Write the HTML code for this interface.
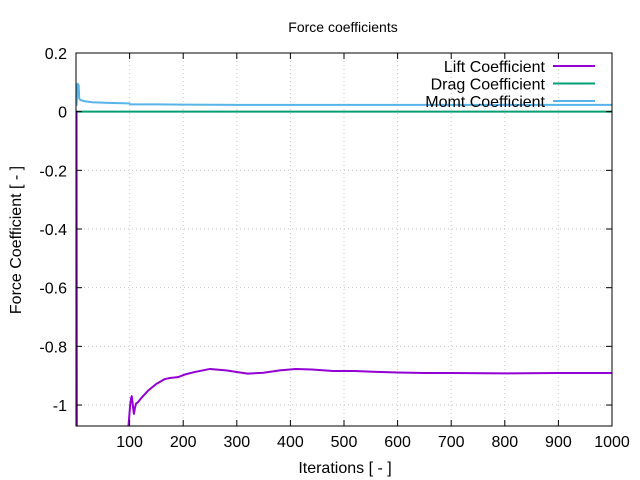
<!DOCTYPE html>
<html><head><meta charset="utf-8"><style>
html,body{margin:0;background:#fff;width:640px;height:480px;overflow:hidden}
svg{display:block;font-family:"Liberation Sans",sans-serif}
</style></head><body>
<svg id="chart" width="640" height="480">
<text x="343" y="32" font-size="14" text-anchor="middle">Force coefficients</text>
<text x="345" y="473" font-size="16" text-anchor="middle">Iterations [ - ]</text>
<text transform="translate(21,240) rotate(-90)" font-size="16" text-anchor="middle">Force Coefficient [ - ]</text>
<defs><clipPath id="clip"><rect x="76" y="53" width="536" height="373"/></clipPath></defs>
<g id="grid"></g>
<g id="series" clip-path="url(#clip)"></g>
<rect x="76" y="53" width="536" height="373" fill="none" stroke="#000" stroke-width="1"/>
<g id="ticks"></g>
<g id="legend"></g>
</svg>
<script>
const xTicks=[100,200,300,400,500,600,700,800,900,1000];
const yTicks=[0.2,0,-0.2,-0.4,-0.6,-0.8,-1];
const yTickLabels=["0.2","0","-0.2","-0.4","-0.6","-0.8","-1"];
const liftX=[0,1,2,97,98,101,103,104,106,108,110,112,116,120,125,135,150,165,175,190,205,220,250,280,320,350,380,410,440,480,520,560,600,650,700,800,900,1000];
const liftY=[0,0,-2,-2,-1.07,-1.0,-0.975,-0.97,-1.0,-1.03,-1.01,-0.995,-0.99,-0.98,-0.97,-0.95,-0.928,-0.912,-0.908,-0.905,-0.895,-0.888,-0.877,-0.882,-0.893,-0.89,-0.882,-0.877,-0.879,-0.884,-0.884,-0.887,-0.889,-0.891,-0.891,-0.892,-0.891,-0.891];
const dragX=[0,1000];
const dragY=[0.0,0.0];
const momtX=[1,3,5,6,8,15,30,60,100,101,150,200,300,500,700,1000];
const momtY=[0.02,0.095,0.09,0.045,0.04,0.036,0.032,0.03,0.028,0.025,0.025,0.024,0.023,0.023,0.023,0.023];
const X0=0,X1=1000,Y0=-1.0715,Y1=0.2,L=76,R=612,T=53,B=426;
const sx=v=>L+(v-X0)/(X1-X0)*(R-L);
const sy=v=>B-(v-Y0)/(Y1-Y0)*(B-T);
const NS="http://www.w3.org/2000/svg";
function mk(tag,attrs,parent){const e=document.createElementNS(NS,tag);for(const k in attrs)e.setAttribute(k,attrs[k]);document.getElementById(parent).appendChild(e);return e;}
xTicks.forEach(t=>{
 const x=sx(t);
 const g=mk('line',{x1:x,x2:x,y1:T,y2:B,stroke:'#c8c8c8','stroke-dasharray':'1,3'},'grid');
 
 
 const a=mk('line',{x1:x,x2:x,y1:B,y2:B-6,stroke:'#000'},'ticks');
 
 
 const b=mk('line',{x1:x,x2:x,y1:T,y2:T+6,stroke:'#000'},'ticks');
 
 
 const l=mk('text',{x:x,y:447,'font-size':16,'text-anchor':'middle'},'ticks');
 l.textContent=t;
 
 
});
yTicks.forEach((t,i)=>{
 const y=sy(t);
 const g=mk('line',{x1:L,x2:R,y1:y,y2:y,stroke:'#c8c8c8','stroke-dasharray':'1,3'},'grid');
 
 
 const a=mk('line',{x1:L,x2:L+6,y1:y,y2:y,stroke:'#000'},'ticks');
 
 
 const b=mk('line',{x1:R,x2:R-6,y1:y,y2:y,stroke:'#000'},'ticks');
 
 
 const l=mk('text',{x:67,y:y+6,'font-size':16,'text-anchor':'end'},'ticks');
 l.textContent=yTickLabels[i];
 
 
});
function line(xs,ys,color,name){
 const p=mk('polyline',{points:xs.map((x,i)=>sx(x)+','+sy(ys[i])).join(' '),fill:'none',stroke:color,'stroke-width':2,'stroke-linejoin':'round'},'series');
 
 
}
line(dragX,dragY,'#009e73','drag-coefficient-line');
line(liftX,liftY,'#9400d3','lift-coefficient-line');
line(momtX,momtY,'#56b4e9','momt-coefficient-line');
const legNames=['Lift Coefficient','Drag Coefficient','Momt Coefficient'];
const legColors=['#9400d3','#009e73','#56b4e9'];
legNames.forEach((n,i)=>{
 const y=66+i*17.5;
 const t=mk('text',{x:545,y:y+6,'font-size':16,'text-anchor':'end'},'legend');
 t.textContent=n;
 
 
 const l=mk('line',{x1:553,x2:595,y1:y,y2:y,stroke:legColors[i],'stroke-width':2},'legend');
 
 
});
</script>
</body></html>
